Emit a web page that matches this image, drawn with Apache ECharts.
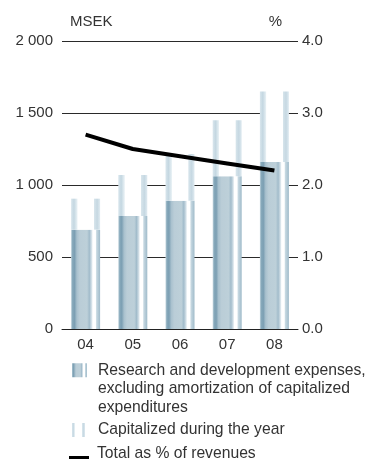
<!DOCTYPE html>
<html>
<head>
<meta charset="utf-8">
<script src="https://cdn.jsdelivr.net/npm/echarts@6/dist/echarts.min.js"></script>
<style>
  html, body { margin: 0; padding: 0; background: #fff; }
  #chart { width: 366px; height: 459px; }
</style>
</head>
<body>
<div id="chart"></div>
<script>
// Years on the category axis
var years = ['04', '05', '06', '07', '08'];
// R&D expenses excluding amortization of capitalized expenditures (MSEK)
var rdExpenses = [690, 785, 890, 1060, 1160];
// Development expenditure capitalized during the year (MSEK)
var capitalized = [215, 285, 325, 390, 490];
// Total R&D as % of revenues
var pctOfRevenues = [2.7, 2.5, 2.4, 2.3, 2.2];
// Axis ticks
var leftTicks = [0, 500, 1000, 1500, 2000];
var rightTicks = [0, 1, 2, 3, 4];

var FONT = 'Liberation Sans, Arial, sans-serif';
var TEXT = '#333';
var LEGEND_FONT = 15.7;

function stops(list) {
  return list.map(function (s) { return { offset: s[0], color: s[1] }; });
}

// Striped fill of the expense bars
var rdFill = {
  type: 'linear', x: 0, y: 0, x2: 1, y2: 0,
  colorStops: stops([
    [0, '#c3d5de'], [0.05, '#86a8ba'], [0.12, '#7c9fb3'], [0.2, '#a9c1ce'],
    [0.3, '#bacdd7'], [0.55, '#bdd0d9'], [0.63, '#a2bccb'], [0.7, '#cfdde5'],
    [0.75, '#ffffff'], [0.84, '#ffffff'], [0.88, '#c6d8e1'], [1, '#a0bbca']
  ])
};
// Light edge stripes of the capitalized part
var capFill = {
  type: 'linear', x: 0, y: 0, x2: 1, y2: 0,
  colorStops: stops([
    [0, '#d9e6ed'], [0.1, '#c4d7e1'], [0.21, '#e7f0f4'], [0.23, '#ffffff'],
    [0.78, '#ffffff'], [0.8, '#d6e4eb'], [0.9, '#c6d8e2'], [1, '#e0ebf1']
  ])
};

function thousands(v) {
  return String(v).replace(/\B(?=(\d{3})+(?!\d))/g, ' ');
}

// Legend swatches: the visible shape sits at the top of a taller box so it
// lines up with the first text line (zero-length segments set the box size).
var rdIcon = 'path://M0,2.25H15V16.25H0Z M0,0L0,0 M15,55.5L15,55.5';
var capIcon = 'path://M0,2H13V16H0Z M0,0L0,0 M13,18L13,18';
var lineIcon = 'path://M0,11H20V15H0Z M0,0L0,0 M20,18L20,18';

var legendText = function (padLeft, lh) {
  return { color: TEXT, fontSize: LEGEND_FONT, fontFamily: FONT, lineHeight: lh, padding: [0, 0, 0, padLeft] };
};

var chart = echarts.init(document.getElementById('chart'), null, { renderer: 'canvas' });

chart.setOption({
  animation: false,
  textStyle: { fontFamily: FONT },
  grid: { left: 62, right: 68, top: 41, bottom: 130, containLabel: false },
  xAxis: {
    type: 'category',
    data: years,
    axisLine: { show: true, lineStyle: { color: '#222', width: 1 } },
    axisTick: { show: false },
    axisLabel: { color: TEXT, fontSize: 15, fontFamily: FONT, margin: 8 },
    splitLine: { show: false }
  },
  yAxis: [
    {
      type: 'value',
      min: leftTicks[0], max: leftTicks[leftTicks.length - 1], interval: 500,
      name: 'MSEK',
      nameLocation: 'end',
      nameGap: 12,
      nameTextStyle: { color: TEXT, fontSize: 15, fontFamily: FONT, align: 'left', padding: [0, 0, 0, 8] },
      axisLine: { show: false },
      axisTick: { show: false },
      axisLabel: { color: TEXT, fontSize: 15, fontFamily: FONT, margin: 9, formatter: thousands },
      splitLine: { show: true, lineStyle: { color: '#2a2a2a', width: 1 } }
    },
    {
      type: 'value',
      min: rightTicks[0], max: rightTicks[rightTicks.length - 1], interval: 1,
      name: '%',
      nameLocation: 'end',
      nameGap: 12,
      nameTextStyle: { color: TEXT, fontSize: 15, fontFamily: FONT, align: 'right', padding: [0, 16, 0, 0] },
      axisLine: { show: false },
      axisTick: { show: false },
      axisLabel: { color: TEXT, fontSize: 15, fontFamily: FONT, margin: 4,
        formatter: function (v) { return v.toFixed(1); } },
      splitLine: { show: false }
    }
  ],
  legend: [
    {
      data: [{ name: 'Research and development expenses', icon: rdIcon }],
      left: 72, top: 361, padding: 0,
      itemWidth: 15, itemHeight: 55.5,
      selectedMode: false,
      formatter: function () {
        return 'Research and development expenses,\nexcluding amortization of capitalized\nexpenditures';
      },
      textStyle: legendText(6, 18.5)
    },
    {
      data: [{ name: 'Capitalized during the year', icon: capIcon }],
      left: 72, top: 421, padding: 0,
      itemWidth: 13, itemHeight: 18,
      selectedMode: false,
      textStyle: legendText(8, 18)
    },
    {
      data: [{ name: 'Total as % of revenues', icon: lineIcon, itemStyle: { color: '#000', borderWidth: 0 } }],
      left: 69, top: 445, padding: 0,
      itemWidth: 20, itemHeight: 18,
      selectedMode: false,
      textStyle: legendText(3, 18)
    }
  ],
  series: [
    {
      name: 'Research and development expenses',
      type: 'bar',
      stack: 'rd',
      barWidth: 29,
      data: rdExpenses,
      itemStyle: { color: rdFill }
    },
    {
      name: 'Capitalized during the year',
      type: 'bar',
      stack: 'rd',
      barWidth: 29,
      data: capitalized,
      itemStyle: { color: capFill }
    },
    {
      name: 'Total as % of revenues',
      type: 'line',
      yAxisIndex: 1,
      data: pctOfRevenues,
      symbol: 'none',
      z: 5,
      itemStyle: { color: '#000' },
      lineStyle: { color: '#000', width: 4 }
    }
  ]
});
</script>
</body>
</html>
